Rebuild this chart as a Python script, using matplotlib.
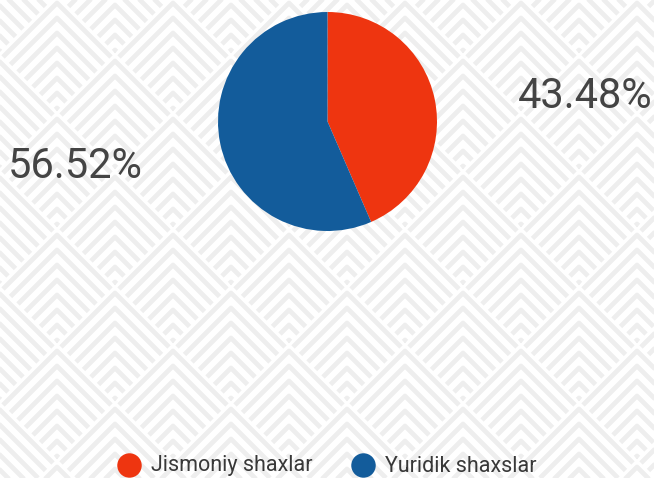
import matplotlib.pyplot as plt
from matplotlib.collections import LineCollection

plt.rcParams['font.family'] = ['Roboto', 'DejaVu Sans']

labels = ['Jismoniy shaxlar', 'Yuridik shaxslar']
values = [43.48, 56.52]
colors = ['#ee3510', '#135c9b']

W, H = 654, 478
fig = plt.figure(figsize=(W / 100, H / 100), dpi=100)

# background chevron pattern
bg = fig.add_axes([0, 0, 1, 1], zorder=0)
bg.set_xlim(0, W)
bg.set_ylim(H, 0)
bg.axis('off')
R = 58
step = 15
segs = []
for j in range(-3, 4):
    for i in range(-2, 7):
        for tx, ty in [(57 + 2 * R * i, 233 + 2 * R * j), (57 + R + 2 * R * i, 233 + R + 2 * R * j)]:
            t = 2
            while t < 2 * R - 4:
                u = R - t / 2.0 - 3
                ay = ty + t
                segs.append([(tx - u, ay + u), (tx, ay), (tx + u, ay + u)])
                t += step
bg.add_collection(LineCollection(segs, colors='#eeeeee', linewidths=3.4))

ax = fig.add_axes([218 / W, 1 - 231 / H, 219 / W, 219 / H], zorder=2)
wedges, _ = ax.pie(values, colors=colors, startangle=90, counterclock=False,
                   radius=1, wedgeprops=dict(linewidth=0))
ax.set_xlim(-1, 1)
ax.set_ylim(-1, 1)
ax.set_aspect('equal')

fig.text(75 / W, 1 - 166 / H, '56.52%', fontsize=30, color='#444444',
         ha='center', va='center', zorder=3)
fig.text(585 / W, 1 - 97 / H, '43.48%', fontsize=30, color='#444444',
         ha='center', va='center', zorder=3)

# legend
lax = fig.add_axes([0, 0, 1, 1], zorder=4)
lax.set_xlim(0, W)
lax.set_ylim(H, 0)
lax.axis('off')
leg_x = [129, 363]
for lab, c, x in zip(labels, colors, leg_x):
    lax.scatter([x], [465], s=310, color=c, linewidths=0)
    lax.text(x + 22, 466, lab, fontsize=15.5, color='#383838', va='center', ha='left',
             family=['Liberation Sans Narrow', 'Roboto', 'DejaVu Sans'])

fig.savefig('out.png', dpi=100)
